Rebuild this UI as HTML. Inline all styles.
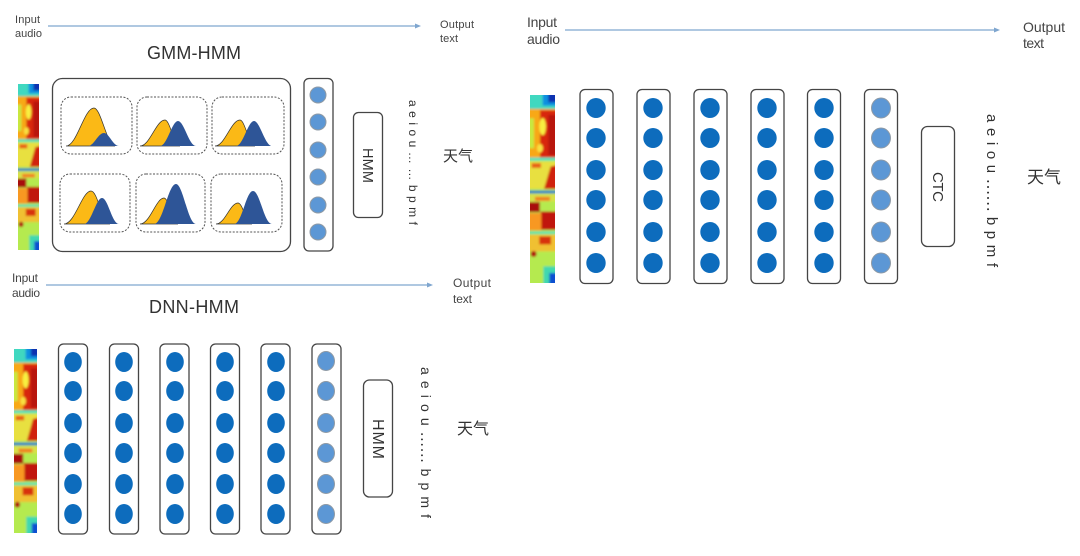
<!DOCTYPE html>
<html><head><meta charset="utf-8">
<style>
html,body{margin:0;padding:0;background:#fff;width:1080px;height:556px;overflow:hidden}
svg{display:block}
text{font-family:"Liberation Sans","Noto Sans CJK SC",sans-serif;fill:#444}
.t{fill:#333}
.box{fill:#fff;stroke:#444;stroke-width:1.3}
.dash{fill:#fff;stroke:#555;stroke-width:1;stroke-dasharray:2 1.5}
.a{stroke:#7fa6cf;stroke-width:1.2;fill:none}
.h{fill:#7fa6cf}
.d{fill:#0b6cbd}
.l{fill:#5b97d5;stroke:#8f9aa5;stroke-width:1}
.y{fill:#fbb914;stroke:#333;stroke-width:.7}
.b{fill:#2f5597}
</style></head><body>
<svg width="1080" height="556" viewBox="0 0 1080 556" xmlns="http://www.w3.org/2000/svg">
<defs>
<filter id="s" x="-5%" y="-5%" width="110%" height="110%"><feGaussianBlur stdDeviation="0.35"/></filter>
<filter id="sb" filterUnits="userSpaceOnUse" x="-30" y="-30" width="135" height="625"><feGaussianBlur stdDeviation="3.500"/></filter>
<linearGradient id="tg" x1="0" y1="0" x2="1" y2="0"><stop offset="0" stop-color="#5fe0a0"/><stop offset=".55" stop-color="#2fc4e8"/><stop offset="1" stop-color="#0a30b0"/></linearGradient>
<linearGradient id="bg" x1="0" y1="0" x2="1" y2="0"><stop offset="0" stop-color="#a8ec50"/><stop offset=".6" stop-color="#50e0a0"/><stop offset="1" stop-color="#1050d0"/></linearGradient>
<symbol id="sp" viewBox="0 0 75 565" preserveAspectRatio="none">
<g filter="url(#sb)">
<rect x="-30" y="-30" width="135" height="625" fill="#b5ea50"/>
<rect x="-30" y="-30" width="135" height="72" fill="#40d8c0"/>
<rect x="38" y="-30" width="67" height="62" fill="#1090e0"/>
<rect x="55" y="-30" width="50" height="52" fill="#0a30b0"/>
<rect x="-30" y="42" width="135" height="146" fill="#f8a818"/>
<rect x="30" y="46" width="75" height="142" fill="#d82808"/>
<rect x="-30" y="70" width="42" height="90" fill="#c8e840"/>
<ellipse cx="38" cy="95" rx="10" ry="26" fill="#f8f040"/>
<ellipse cx="30" cy="160" rx="9" ry="13" fill="#f8e040"/>
<rect x="55" y="60" width="50" height="120" fill="#b81408"/>
<rect x="-30" y="188" width="135" height="9" fill="#50e0c0"/>
<rect x="-30" y="200" width="135" height="82" fill="#e8e040"/>
<path d="M42 282L62 215L105 205V282Z" fill="#d02008"/>
<rect x="5" y="205" width="28" height="14" fill="#e86018"/>
<rect x="-30" y="287" width="135" height="9" fill="#2080c8"/>
<rect x="-30" y="298" width="135" height="22" fill="#d8e048"/>
<path d="M15 306H60V318H15Z" fill="#f08020"/>
<rect x="-30" y="322" width="60" height="30" fill="#a81008"/>
<rect x="32" y="350" width="73" height="55" fill="#c01808"/>
<rect x="-30" y="355" width="64" height="52" fill="#f89820"/>
<rect x="-30" y="410" width="135" height="8" fill="#60e0b0"/>
<rect x="-30" y="420" width="135" height="50" fill="#f0c030"/>
<rect x="28" y="425" width="35" height="24" fill="#d83010"/>
<rect x="-30" y="470" width="135" height="125" fill="#b5ea50"/>
<rect x="40" y="515" width="65" height="80" fill="#40d8b0"/>
<rect x="58" y="535" width="47" height="60" fill="#1050d0"/>
<circle cx="11" cy="478" r="9" fill="#b01008"/>
</g>
</symbol>
</defs>
<g filter="url(#s)">

<!-- GMM-HMM -->
<text x="15" y="23" font-size="11" textLength="25">Input</text>
<text x="15" y="37" font-size="11" textLength="27">audio</text>
<line x1="48" y1="26" x2="416" y2="26" class="a"/><path d="M415 23.500L421 26L415 28.500Z" class="h"/>
<text x="440" y="28" font-size="11" textLength="34">Output</text>
<text x="440" y="42" font-size="11" textLength="18">text</text>
<text x="147" y="59" font-size="18" textLength="94" class="t">GMM-HMM</text>
<use href="#sp" x="18" y="84" width="21" height="166"/>
<rect x="52.500" y="78.500" width="238" height="173" rx="10" class="box"/>
<rect x="61" y="97" width="71" height="57" rx="10" class="dash"/>
<rect x="137" y="97" width="70" height="57" rx="10" class="dash"/>
<rect x="212" y="97" width="72" height="57" rx="10" class="dash"/>
<rect x="60" y="174" width="70" height="58" rx="10" class="dash"/>
<rect x="136" y="174" width="69" height="58" rx="10" class="dash"/>
<rect x="211" y="174" width="71" height="58" rx="10" class="dash"/>
<path class="y" d="M66 146C77 146 84 108 94 108C101 108 107 146 115 146Z"/><path class="b" d="M88 146C94 146 98 133 104 133C109 133 113 146 119 146Z"/>
<path class="y" d="M140 146C150 146 156 120 165 120C170 120 174 146 180 146Z"/><path class="b" d="M160 146C167 146 172 121 178 121C184 121 189 146 196 146Z"/>
<path class="y" d="M215 146C225 146 231 120 240 120C245 120 249 146 255 146Z"/><path class="b" d="M236 146C243 146 248 121 254 121C260 121 265 146 272 146Z"/>
<path class="y" d="M64 224C75 224 82 191 91 191C98 191 102 224 110 224Z"/><path class="b" d="M84 224C91 224 96 198 102 198C108 198 112 224 119 224Z"/>
<path class="y" d="M140 224C150 224 156 198 164 198C169 198 172 224 178 224Z"/><path class="b" d="M154 224C163 224 168 184 176 184C183 184 188 224 196 224Z"/>
<path class="y" d="M216 224C225 224 230 203 238 203C243 203 246 224 252 224Z"/><path class="b" d="M234 224C242 224 246 191 253 191C260 191 264 224 272 224Z"/>
<rect x="304" y="78.500" width="29" height="172.500" rx="5" class="box"/>
<g class="l"><circle cx="318" cy="95" r="8"/><circle cx="318" cy="122" r="8"/><circle cx="318" cy="150" r="8"/><circle cx="318" cy="177" r="8"/><circle cx="318" cy="205" r="8"/><circle cx="318" cy="232" r="8"/></g>
<rect x="353.500" y="112.500" width="29" height="105" rx="5" class="box"/>
<text transform="translate(363,148) rotate(90)" font-size="14.500" textLength="35" class="t">HMM</text>
<text transform="translate(409,100) rotate(90)" font-size="12" textLength="125" class="t">a e i o u … … b p m f</text>
<text x="443" y="161" font-size="15" class="t">天气</text>

<!-- DNN-HMM -->
<text x="12" y="282" font-size="12" textLength="26">Input</text>
<text x="12" y="297" font-size="12" textLength="28">audio</text>
<line x1="46" y1="285" x2="428" y2="285" class="a"/><path d="M427 282.500L433 285L427 287.500Z" class="h"/>
<text x="453" y="287" font-size="12" textLength="38">Output</text>
<text x="453" y="303" font-size="12" textLength="19">text</text>
<text x="149" y="313" font-size="18" textLength="90" class="t">DNN-HMM</text>
<use href="#sp" x="14" y="349" width="23" height="184"/>
<g class="box">
<rect x="58.500" y="344" width="29" height="190" rx="5"/><rect x="109.500" y="344" width="29" height="190" rx="5"/><rect x="160" y="344" width="29" height="190" rx="5"/><rect x="210.500" y="344" width="29" height="190" rx="5"/><rect x="261" y="344" width="29" height="190" rx="5"/><rect x="312" y="344" width="29" height="190" rx="5"/>
</g>
<g class="d">
<ellipse cx="73" cy="362" rx="8.800" ry="10"/><ellipse cx="73" cy="391" rx="8.800" ry="10"/><ellipse cx="73" cy="423" rx="8.800" ry="10"/><ellipse cx="73" cy="453" rx="8.800" ry="10"/><ellipse cx="73" cy="484" rx="8.800" ry="10"/><ellipse cx="73" cy="514" rx="8.800" ry="10"/>
<ellipse cx="124" cy="362" rx="8.800" ry="10"/><ellipse cx="124" cy="391" rx="8.800" ry="10"/><ellipse cx="124" cy="423" rx="8.800" ry="10"/><ellipse cx="124" cy="453" rx="8.800" ry="10"/><ellipse cx="124" cy="484" rx="8.800" ry="10"/><ellipse cx="124" cy="514" rx="8.800" ry="10"/>
<ellipse cx="175" cy="362" rx="8.800" ry="10"/><ellipse cx="175" cy="391" rx="8.800" ry="10"/><ellipse cx="175" cy="423" rx="8.800" ry="10"/><ellipse cx="175" cy="453" rx="8.800" ry="10"/><ellipse cx="175" cy="484" rx="8.800" ry="10"/><ellipse cx="175" cy="514" rx="8.800" ry="10"/>
<ellipse cx="225" cy="362" rx="8.800" ry="10"/><ellipse cx="225" cy="391" rx="8.800" ry="10"/><ellipse cx="225" cy="423" rx="8.800" ry="10"/><ellipse cx="225" cy="453" rx="8.800" ry="10"/><ellipse cx="225" cy="484" rx="8.800" ry="10"/><ellipse cx="225" cy="514" rx="8.800" ry="10"/>
<ellipse cx="276" cy="362" rx="8.800" ry="10"/><ellipse cx="276" cy="391" rx="8.800" ry="10"/><ellipse cx="276" cy="423" rx="8.800" ry="10"/><ellipse cx="276" cy="453" rx="8.800" ry="10"/><ellipse cx="276" cy="484" rx="8.800" ry="10"/><ellipse cx="276" cy="514" rx="8.800" ry="10"/>
</g>
<g class="l">
<ellipse cx="326" cy="361" rx="8.500" ry="9.500"/><ellipse cx="326" cy="391" rx="8.500" ry="9.500"/><ellipse cx="326" cy="423" rx="8.500" ry="9.500"/><ellipse cx="326" cy="453" rx="8.500" ry="9.500"/><ellipse cx="326" cy="484" rx="8.500" ry="9.500"/><ellipse cx="326" cy="514" rx="8.500" ry="9.500"/>
</g>
<rect x="363.500" y="380" width="29" height="117" rx="6" class="box"/>
<text transform="translate(373,419) rotate(90)" font-size="16" textLength="40" class="t">HMM</text>
<text transform="translate(421,367) rotate(90)" font-size="14" textLength="151" class="t">a e i o u ⋯⋯ b p m f</text>
<text x="457" y="434" font-size="16" class="t">天气</text>

<!-- CTC -->
<text x="527" y="27" font-size="14" textLength="30">Input</text>
<text x="527" y="44" font-size="14" textLength="33">audio</text>
<line x1="565" y1="30" x2="995" y2="30" class="a"/><path d="M994 27.500L1000 30L994 32.500Z" class="h"/>
<text x="1023" y="32" font-size="14" textLength="42">Output</text>
<text x="1023" y="48" font-size="14" textLength="21">text</text>
<use href="#sp" x="530" y="95" width="25" height="188"/>
<g class="box">
<rect x="580" y="89.500" width="33" height="194" rx="5"/><rect x="637" y="89.500" width="33" height="194" rx="5"/><rect x="694" y="89.500" width="33" height="194" rx="5"/><rect x="751" y="89.500" width="33" height="194" rx="5"/><rect x="807.500" y="89.500" width="33" height="194" rx="5"/><rect x="864.500" y="89.500" width="33" height="194" rx="5"/>
</g>
<g class="d">
<ellipse cx="596" cy="108" rx="9.700" ry="10"/><ellipse cx="596" cy="138" rx="9.700" ry="10"/><ellipse cx="596" cy="170" rx="9.700" ry="10"/><ellipse cx="596" cy="200" rx="9.700" ry="10"/><ellipse cx="596" cy="232" rx="9.700" ry="10"/><ellipse cx="596" cy="263" rx="9.700" ry="10"/>
<ellipse cx="653" cy="108" rx="9.700" ry="10"/><ellipse cx="653" cy="138" rx="9.700" ry="10"/><ellipse cx="653" cy="170" rx="9.700" ry="10"/><ellipse cx="653" cy="200" rx="9.700" ry="10"/><ellipse cx="653" cy="232" rx="9.700" ry="10"/><ellipse cx="653" cy="263" rx="9.700" ry="10"/>
<ellipse cx="710" cy="108" rx="9.700" ry="10"/><ellipse cx="710" cy="138" rx="9.700" ry="10"/><ellipse cx="710" cy="170" rx="9.700" ry="10"/><ellipse cx="710" cy="200" rx="9.700" ry="10"/><ellipse cx="710" cy="232" rx="9.700" ry="10"/><ellipse cx="710" cy="263" rx="9.700" ry="10"/>
<ellipse cx="767" cy="108" rx="9.700" ry="10"/><ellipse cx="767" cy="138" rx="9.700" ry="10"/><ellipse cx="767" cy="170" rx="9.700" ry="10"/><ellipse cx="767" cy="200" rx="9.700" ry="10"/><ellipse cx="767" cy="232" rx="9.700" ry="10"/><ellipse cx="767" cy="263" rx="9.700" ry="10"/>
<ellipse cx="824" cy="108" rx="9.700" ry="10"/><ellipse cx="824" cy="138" rx="9.700" ry="10"/><ellipse cx="824" cy="170" rx="9.700" ry="10"/><ellipse cx="824" cy="200" rx="9.700" ry="10"/><ellipse cx="824" cy="232" rx="9.700" ry="10"/><ellipse cx="824" cy="263" rx="9.700" ry="10"/>
</g>
<g class="l">
<ellipse cx="881" cy="108" rx="9.500" ry="10"/><ellipse cx="881" cy="138" rx="9.500" ry="10"/><ellipse cx="881" cy="170" rx="9.500" ry="10"/><ellipse cx="881" cy="200" rx="9.500" ry="10"/><ellipse cx="881" cy="232" rx="9.500" ry="10"/><ellipse cx="881" cy="263" rx="9.500" ry="10"/>
</g>
<rect x="921.500" y="126.500" width="33" height="120" rx="6" class="box"/>
<text transform="translate(933,172) rotate(90)" font-size="15" textLength="30" class="t">CTC</text>
<text transform="translate(987,114) rotate(90)" font-size="15" textLength="153" class="t">a e i o u ⋯⋯ b p m f</text>
<text x="1027" y="183" font-size="17" class="t">天气</text>
</g>
</svg>
</body></html>
